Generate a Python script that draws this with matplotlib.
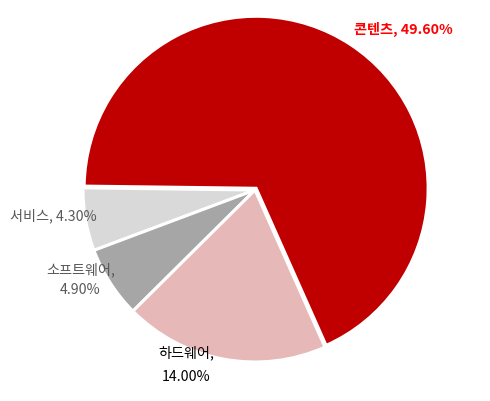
import matplotlib.pyplot as plt

plt.rcParams['font.family'] = ['Noto Sans CJK KR', 'DejaVu Sans']

categories = ['콘텐츠', '서비스', '소프트웨어', '하드웨어']
values = [49.6, 4.3, 4.9, 14.0]
colors = ['#C00000', '#D9D9D9', '#A6A6A6', '#E6B9B8']
label_texts = ['콘텐츠, 49.60%', '서비스, 4.30%', '소프트웨어,\n4.90%', '하드웨어,\n14.00%']

# label placement (pie radius = 1)
label_pos = [(0.86, 0.935), (-1.175, -0.151), (-1.015, -0.523), (-0.40, -1.017)]
label_colors = ['#FF0000', '#595959', '#595959', '#000000']
label_weights = ['bold', 'normal', 'normal', 'normal']
label_spacing = [1.2, 1.2, 1.5, 1.9]

fig = plt.figure(figsize=(4.9, 4.01), dpi=100)
ax = fig.add_axes([0, 0, 1, 1])

ax.pie(values, colors=colors, startangle=-66, counterclock=True,
       explode=[0.012, 0, 0, 0],
       wedgeprops={'edgecolor': 'white', 'linewidth': 2.2})

for txt, (x, y), c, w, ls in zip(label_texts, label_pos, label_colors,
                                 label_weights, label_spacing):
    ax.text(x, y, txt, ha='center', va='center', color=c, fontweight=w,
            fontsize=10.2, linespacing=ls)

ax.set_xlim(-255 / 172, (490 - 255) / 172)
ax.set_ylim(-211 / 172, 190 / 172)
ax.axis('off')

fig.savefig('out.png', dpi=100)
